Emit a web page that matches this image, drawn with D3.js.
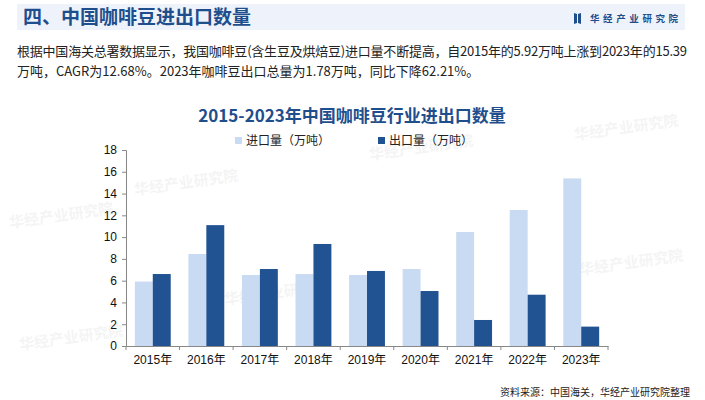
<!DOCTYPE html>
<html>
<head>
<meta charset="utf-8">
<script src="https://cdn.jsdelivr.net/npm/d3@7"></script>
<style>
  body { margin: 0; background: #fff; font-family: "Noto Sans CJK SC", "Liberation Sans", sans-serif; }
  svg { display: block; }
</style>
</head>
<body>
<div id="chart"></div>
<script>
const years = ['2015年', '2016年', '2017年', '2018年', '2019年', '2020年', '2021年', '2022年', '2023年']
const imports = [5.92, 8.45, 6.52, 6.61, 6.52, 7.07, 10.47, 12.49, 15.39]
const exports = [6.61, 11.1, 7.07, 9.37, 6.89, 5.05, 2.39, 4.71, 1.78]
const yTicks = [0, 2, 4, 6, 8, 10, 12, 14, 16, 18]
const seriesNames = ['进口量（万吨）', '出口量（万吨）']
const colors = ['#c9dbf2', '#215392']

const W = 705
const H = 400
const margin = { top: 150, left: 126, right: 97, bottom: 54 }
const width = W - margin.left - margin.right
const height = H - margin.top - margin.bottom

const svg = d3
  .select('#chart')
  .append('svg')
  .attr('width', W)
  .attr('height', H)

// header band
svg.append('rect')
  .attr('x', 17).attr('y', 4).attr('width', 668).attr('height', 26)
  .attr('fill', '#eef3fb')
svg.append('text')
  .attr('x', 23).attr('y', 24)
  .attr('font-size', 19).attr('font-weight', 'bold')
  .attr('fill', '#1f4e8c')
  .text('四、中国咖啡豆进出口数量')

// logo
svg.append('path')
  .attr('d', 'M574,13 L577,14 L577,23 L574,24 Z M578,14 L581,13 L581,24 L578,23 Z')
  .attr('fill', '#1f4e8c')
svg.append('text')
  .attr('x', 590).attr('y', 21.5)
  .attr('font-size', 9.5).attr('font-weight', 'bold')
  .attr('letter-spacing', 3.6)
  .attr('fill', '#1f4e8c')
  .text('华经产业研究院')

// paragraph
const para = [
  '根据中国海关总署数据显示，我国咖啡豆(含生豆及烘焙豆)进口量不断提高，自2015年的5.92万吨上涨到2023年的15.39',
  '万吨，CAGR为12.68%。2023年咖啡豆出口总量为1.78万吨，同比下降62.21%。'
]
svg.selectAll('.para')
  .data(para)
  .enter()
  .append('text')
  .attr('class', 'para')
  .attr('x', 17)
  .attr('y', (d, i) => 56 + i * 20)
  .attr('font-size', 13)
  .attr('fill', '#222')
  .attr('textLength', (d, i) => i === 0 ? 670 : null)
  .text(d => d)

// faint watermarks
const marks = [[135, 195], [370, 160], [225, 305], [580, 275], [10, 228], [575, 140], [20, 350]]
marks.forEach(([x, y]) => {
  svg.append('text')
    .attr('x', x).attr('y', y)
    .attr('transform', `rotate(-8,${x},${y})`)
    .attr('font-size', 15).attr('font-weight', 'bold')
    .attr('fill', '#000').attr('opacity', 0.04)
    .text('华经产业研究院')
})

// chart title
svg.append('text')
  .attr('x', 352).attr('y', 122)
  .attr('text-anchor', 'middle')
  .attr('font-size', 17).attr('font-weight', 'bold')
  .attr('fill', '#1f4e8c')
  .text('2015-2023年中国咖啡豆行业进出口数量')

// legend
const legendX = [235, 378]
seriesNames.forEach((name, i) => {
  svg.append('rect')
    .attr('x', legendX[i]).attr('y', 137)
    .attr('width', 7).attr('height', 7)
    .attr('fill', colors[i])
  svg.append('text')
    .attr('x', legendX[i] + 11).attr('y', 145)
    .attr('font-size', 12).attr('fill', '#222')
    .text(name)
})

const g = svg.append('g')
  .attr('transform', 'translate(' + margin.left + ',' + margin.top + ')')

const xPositionScale = d3.scaleBand()
  .domain(years)
  .range([0, width])
  .paddingInner(0.33)
  .paddingOuter(0.165)

const xSub = d3.scaleBand()
  .domain([0, 1])
  .range([0, xPositionScale.bandwidth()])

const yPositionScale = d3.scaleLinear()
  .domain([0, 18])
  .range([height, 0])

const seriesData = [imports, exports]
seriesData.forEach((values, s) => {
  g.selectAll('.bar-' + s)
    .data(values)
    .enter()
    .append('rect')
    .attr('class', 'bar-' + s)
    .attr('x', (d, i) => xPositionScale(years[i]) + xSub(s))
    .attr('width', xSub.bandwidth())
    .attr('y', d => yPositionScale(d))
    .attr('height', d => height - yPositionScale(d))
    .attr('fill', colors[s])
})

// y axis
const yAxis = d3.axisLeft(yPositionScale).tickValues(yTicks).tickSize(4).tickPadding(5)
g.append('g')
  .attr('class', 'axis y-axis')
  .call(yAxis)

// x axis with ticks at category boundaries
const xAxis = d3.axisBottom(xPositionScale).tickSize(0).tickPadding(9)
const xg = g.append('g')
  .attr('class', 'axis x-axis')
  .attr('transform', 'translate(0,' + height + ')')
  .call(xAxis)
const step = xPositionScale.step()
xg.selectAll('.bound')
  .data(d3.range(years.length + 1))
  .enter()
  .append('line')
  .attr('class', 'bound')
  .attr('x1', i => i * step).attr('x2', i => i * step)
  .attr('y1', 0).attr('y2', 4)

g.selectAll('.axis path, .axis line').attr('stroke', '#888')
g.selectAll('.axis text')
  .attr('font-size', 12)
  .attr('fill', '#111')
  .attr('font-family', '"Liberation Sans", "Noto Sans CJK SC", sans-serif')

// source
svg.append('text')
  .attr('x', 690).attr('y', 396)
  .attr('text-anchor', 'end')
  .attr('font-size', 10).attr('fill', '#222')
  .text('资料来源：中国海关，华经产业研究院整理')
</script>
</body>
</html>
